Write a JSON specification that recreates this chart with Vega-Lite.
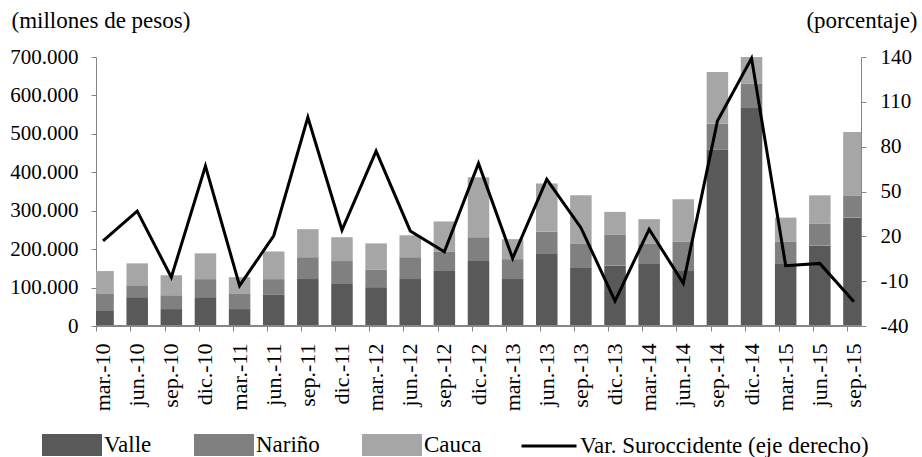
{
  "$schema": "https://vega.github.io/schema/vega-lite/v6.json",
  "width": 765,
  "height": 269,
  "autosize": {"type": "none"},
  "padding": {"left": 96, "top": 57, "right": 61, "bottom": 131},
  "background": "white",
  "config": {
    "font": "Liberation Serif, Times New Roman, serif",
    "view": {"stroke": null},
    "axis": {"labelFont": "Liberation Serif, Times New Roman, serif", "titleFont": "Liberation Serif, Times New Roman, serif", "labelColor": "black", "titleColor": "black", "domainColor": "#868686", "tickColor": "#868686", "grid": false, "tickSize": 5, "titleFontWeight": "normal", "labelOverlap": false},
    "legend": {"labelFont": "Liberation Serif, Times New Roman, serif", "labelColor": "black", "labelLimit": 0}
  },
  "datasets": {
    "regiones": [
      {"fecha": "mar.-10", "region": "Valle", "valor": 39000}, {"fecha": "mar.-10", "region": "Nariño", "valor": 46000}, {"fecha": "mar.-10", "region": "Cauca", "valor": 58000},
      {"fecha": "jun.-10", "region": "Valle", "valor": 75000}, {"fecha": "jun.-10", "region": "Nariño", "valor": 31000}, {"fecha": "jun.-10", "region": "Cauca", "valor": 57000},
      {"fecha": "sep.-10", "region": "Valle", "valor": 44000}, {"fecha": "sep.-10", "region": "Nariño", "valor": 36000}, {"fecha": "sep.-10", "region": "Cauca", "valor": 52000},
      {"fecha": "dic.-10", "region": "Valle", "valor": 75000}, {"fecha": "dic.-10", "region": "Nariño", "valor": 47000}, {"fecha": "dic.-10", "region": "Cauca", "valor": 67000},
      {"fecha": "mar.-11", "region": "Valle", "valor": 44000}, {"fecha": "mar.-11", "region": "Nariño", "valor": 41000}, {"fecha": "mar.-11", "region": "Cauca", "valor": 42000},
      {"fecha": "jun.-11", "region": "Valle", "valor": 81000}, {"fecha": "jun.-11", "region": "Nariño", "valor": 41000}, {"fecha": "jun.-11", "region": "Cauca", "valor": 72000},
      {"fecha": "sep.-11", "region": "Valle", "valor": 122000}, {"fecha": "sep.-11", "region": "Nariño", "valor": 57000}, {"fecha": "sep.-11", "region": "Cauca", "valor": 73000},
      {"fecha": "dic.-11", "region": "Valle", "valor": 111000}, {"fecha": "dic.-11", "region": "Nariño", "valor": 58000}, {"fecha": "dic.-11", "region": "Cauca", "valor": 62000},
      {"fecha": "mar.-12", "region": "Valle", "valor": 101000}, {"fecha": "mar.-12", "region": "Nariño", "valor": 46000}, {"fecha": "mar.-12", "region": "Cauca", "valor": 68000},
      {"fecha": "jun.-12", "region": "Valle", "valor": 122000}, {"fecha": "jun.-12", "region": "Nariño", "valor": 57000}, {"fecha": "jun.-12", "region": "Cauca", "valor": 57000},
      {"fecha": "sep.-12", "region": "Valle", "valor": 143000}, {"fecha": "sep.-12", "region": "Nariño", "valor": 51000}, {"fecha": "sep.-12", "region": "Cauca", "valor": 78000},
      {"fecha": "dic.-12", "region": "Valle", "valor": 169000}, {"fecha": "dic.-12", "region": "Nariño", "valor": 62000}, {"fecha": "dic.-12", "region": "Cauca", "valor": 156000},
      {"fecha": "mar.-13", "region": "Valle", "valor": 122000}, {"fecha": "mar.-13", "region": "Nariño", "valor": 52000}, {"fecha": "mar.-13", "region": "Cauca", "valor": 52000},
      {"fecha": "jun.-13", "region": "Valle", "valor": 189000}, {"fecha": "jun.-13", "region": "Nariño", "valor": 56000}, {"fecha": "jun.-13", "region": "Cauca", "valor": 126000},
      {"fecha": "sep.-13", "region": "Valle", "valor": 153000}, {"fecha": "sep.-13", "region": "Nariño", "valor": 62000}, {"fecha": "sep.-13", "region": "Cauca", "valor": 125000},
      {"fecha": "dic.-13", "region": "Valle", "valor": 157000}, {"fecha": "dic.-13", "region": "Nariño", "valor": 80000}, {"fecha": "dic.-13", "region": "Cauca", "valor": 60000},
      {"fecha": "mar.-14", "region": "Valle", "valor": 163000}, {"fecha": "mar.-14", "region": "Nariño", "valor": 52000}, {"fecha": "mar.-14", "region": "Cauca", "valor": 63000},
      {"fecha": "jun.-14", "region": "Valle", "valor": 143000}, {"fecha": "jun.-14", "region": "Nariño", "valor": 77000}, {"fecha": "jun.-14", "region": "Cauca", "valor": 110000},
      {"fecha": "sep.-14", "region": "Valle", "valor": 459000}, {"fecha": "sep.-14", "region": "Nariño", "valor": 67000}, {"fecha": "sep.-14", "region": "Cauca", "valor": 135000},
      {"fecha": "dic.-14", "region": "Valle", "valor": 567000}, {"fecha": "dic.-14", "region": "Nariño", "valor": 63000}, {"fecha": "dic.-14", "region": "Cauca", "valor": 80000},
      {"fecha": "mar.-15", "region": "Valle", "valor": 163000}, {"fecha": "mar.-15", "region": "Nariño", "valor": 57000}, {"fecha": "mar.-15", "region": "Cauca", "valor": 62000},
      {"fecha": "jun.-15", "region": "Valle", "valor": 209000}, {"fecha": "jun.-15", "region": "Nariño", "valor": 58000}, {"fecha": "jun.-15", "region": "Cauca", "valor": 73000},
      {"fecha": "sep.-15", "region": "Valle", "valor": 282000}, {"fecha": "sep.-15", "region": "Nariño", "valor": 58000}, {"fecha": "sep.-15", "region": "Cauca", "valor": 165000}
    ],
    "variacion": [
      {"fecha": "mar.-10", "var": 16.9}, {"fecha": "jun.-10", "var": 36.9}, {"fecha": "sep.-10", "var": -7.4},
      {"fecha": "dic.-10", "var": 67}, {"fecha": "mar.-11", "var": -13}, {"fecha": "jun.-11", "var": 20.4},
      {"fecha": "sep.-11", "var": 99.6}, {"fecha": "dic.-11", "var": 24.2}, {"fecha": "mar.-12", "var": 77},
      {"fecha": "jun.-12", "var": 23.6}, {"fecha": "sep.-12", "var": 9.7}, {"fecha": "dic.-12", "var": 68.8},
      {"fecha": "mar.-13", "var": 5.3}, {"fecha": "jun.-13", "var": 58.1}, {"fecha": "sep.-13", "var": 25.8},
      {"fecha": "dic.-13", "var": -23.3}, {"fecha": "mar.-14", "var": 24.7}, {"fecha": "jun.-14", "var": -11.4},
      {"fecha": "sep.-14", "var": 97.1}, {"fecha": "dic.-14", "var": 139.1}, {"fecha": "mar.-15", "var": 0.4},
      {"fecha": "jun.-15", "var": 1.9}, {"fecha": "sep.-15", "var": -23.7}
    ]
  },
  "layer": [
    {
      "data": {"name": "regiones"},
      "encoding": {
        "y": {
          "type": "quantitative",
          "scale": {"domain": [0, 700000], "nice": false},
          "axis": {"values": [0, 100000, 200000, 300000, 400000, 500000, 600000, 700000], "tickCount": 8, "labelOverlap": false, "labelFlush": false, "labelExpr": "replace(format(datum.value, ','), ',', '.')", "labelFontSize": 21, "labelPadding": 13, "title": "(millones de pesos)", "titleAngle": 0, "titleAlign": "left", "titleBaseline": "alphabetic", "titleX": -85, "titleY": -30, "titleFontSize": 23}
        }
      },
      "layer": [
        {
          "mark": {"type": "bar", "clip": true},
          "encoding": {
            "x": {
              "field": "fecha", "type": "ordinal", "sort": null,
              "scale": {"type": "band", "range": [-10, 775], "paddingInner": 0.37, "paddingOuter": 0.185},
              "axis": {"title": null, "labelAngle": -90, "labelFontSize": 22, "labelPadding": 12, "domain": false, "ticks": true, "bandPosition": 0.207, "labelDy": 6.3}
            },
            "y": {"field": "valor", "type": "quantitative", "stack": "zero"},
            "color": {
              "field": "region", "type": "nominal",
              "scale": {"domain": ["Valle", "Nariño", "Cauca"], "range": ["#595959", "#808080", "#a6a6a6"]},
              "legend": {"orient": "none", "legendX": -54, "legendY": 358, "direction": "horizontal", "title": null, "symbolType": "M-1,-0.37H1V0.37H-1Z", "symbolSize": 3600, "symbolStrokeWidth": 0, "symbolOpacity": 1, "labelFontSize": 23, "labelOffset": 2, "columnPadding": 42}
            },
            "order": {"field": "region", "sort": "descending"}
          }
        },
        {
          "mark": {"type": "rule", "color": "#868686"},
          "encoding": {"y": {"datum": 0, "type": "quantitative"}}
        }
      ]
    },
    {
      "data": {"name": "variacion"},
      "mark": {"type": "line", "strokeWidth": 3, "strokeJoin": "miter"},
      "encoding": {
        "x": {"field": "fecha", "type": "ordinal", "sort": null},
        "y": {
          "field": "var", "type": "quantitative",
          "scale": {"domain": [-40, 140], "nice": false},
          "axis": {"orient": "right", "values": [-40, -10, 20, 50, 80, 110, 140], "labelOverlap": false, "labelExpr": "'' + datum.value", "labelFontSize": 21, "labelPadding": 14, "title": "(porcentaje)", "titleAngle": 0, "titleAlign": "right", "titleBaseline": "alphabetic", "titleX": 56, "titleY": -30, "titleFontSize": 23}
        },
        "stroke": {
          "datum": "Var. Suroccidente (eje derecho)",
          "scale": {"range": ["black"]},
          "legend": {"orient": "none", "legendX": 424, "legendY": 360, "title": null, "symbolType": "stroke", "symbolSize": 3025, "symbolStrokeWidth": 3, "labelFontSize": 23, "labelOffset": 2}
        }
      }
    }
  ],
  "resolve": {"scale": {"y": "independent"}}
}
